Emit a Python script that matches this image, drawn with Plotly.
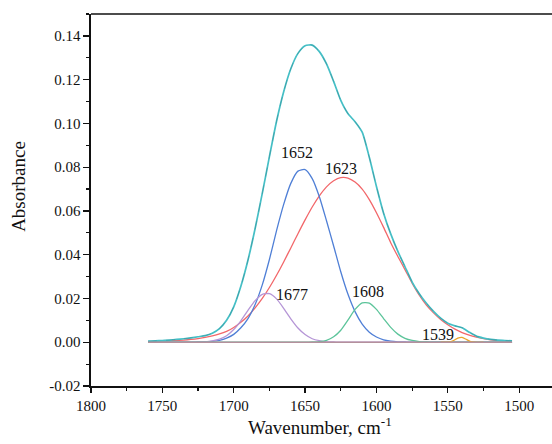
import plotly.graph_objects as go

# ---- data ----
wavenumber = [1760, 1755, 1750, 1745, 1740, 1735, 1730, 1725, 1720, 1715,
              1710, 1705, 1700, 1695, 1690, 1685, 1680, 1675, 1670, 1665,
              1660, 1655, 1650, 1645, 1640, 1635, 1630, 1625, 1620, 1615,
              1610, 1605, 1600, 1595, 1590, 1585, 1580, 1575, 1570, 1565,
              1560, 1555, 1550, 1545, 1540, 1535, 1530, 1525, 1520, 1515,
              1510, 1505]

total_fit = [0.0005, 0.0006, 0.0008, 0.0010, 0.0013, 0.0016, 0.0020, 0.0025, 0.0030, 0.0041,
             0.0062, 0.0100, 0.0162, 0.0256, 0.0376, 0.0520, 0.0680, 0.0848, 0.1010, 0.1145,
             0.1250, 0.1320, 0.1355, 0.1358, 0.1328, 0.1272, 0.1192, 0.1105, 0.1045, 0.1008,
             0.0960, 0.0845, 0.0712, 0.0590, 0.0495, 0.0415, 0.0345, 0.0275, 0.0222, 0.0178,
             0.0141, 0.0110, 0.0087, 0.0075, 0.0066, 0.0046, 0.0028, 0.0019, 0.0013, 0.0010,
             0.0008, 0.0006]

band_1623 = [0.0003, 0.0004, 0.0005, 0.0006, 0.0008, 0.0010, 0.0013, 0.0017, 0.0022, 0.0029,
             0.0038, 0.0050, 0.0067, 0.0091, 0.0120, 0.0157, 0.0200, 0.0250, 0.0306, 0.0367,
             0.0431, 0.0496, 0.0559, 0.0618, 0.0669, 0.0710, 0.0738, 0.0752, 0.0750, 0.0732,
             0.0700, 0.0652, 0.0592, 0.0525, 0.0455, 0.0392, 0.0332, 0.0270, 0.0215, 0.0170,
             0.0134, 0.0104, 0.0080, 0.0060, 0.0044, 0.0032, 0.0023, 0.0016, 0.0011, 0.0007,
             0.0005, 0.0003]

band_1652 = [0, 0, 0, 0, 0, 0, 0, 0.0001, 0.0002, 0.0004,
             0.0009, 0.0019, 0.0036, 0.0066, 0.0108, 0.0172, 0.0262, 0.0378, 0.0510, 0.0630,
             0.0726, 0.0782, 0.0789, 0.0748, 0.0665, 0.0555, 0.0440, 0.0322, 0.0220, 0.0140,
             0.0083, 0.0046, 0.0024, 0.0011, 0.0005, 0.0002, 0.0001, 0, 0, 0,
             0, 0, 0, 0, 0, 0, 0, 0, 0, 0,
             0, 0]

band_1677 = [0, 0, 0, 0, 0, 0, 0, 0.0001, 0.0002, 0.0006,
             0.0014, 0.0030, 0.0058, 0.0098, 0.0146, 0.0190, 0.0219, 0.0222, 0.0198, 0.0155,
             0.0107, 0.0065, 0.0035, 0.0016, 0.0007, 0.0002, 0.0001, 0, 0, 0,
             0, 0, 0, 0, 0, 0, 0, 0, 0, 0,
             0, 0, 0, 0, 0, 0, 0, 0, 0, 0,
             0, 0]

band_1608 = [0, 0, 0, 0, 0, 0, 0, 0, 0, 0,
             0, 0, 0, 0, 0, 0, 0, 0, 0, 0,
             0, 0, 0, 0.0001, 0.0003, 0.0009, 0.0025, 0.0055, 0.0101, 0.0150,
             0.0180, 0.0179, 0.0150, 0.0108, 0.0068, 0.0037, 0.0018, 0.0008, 0.0003, 0.0001,
             0, 0, 0, 0, 0, 0, 0, 0, 0, 0,
             0, 0]

wn_1539 = [1555, 1549, 1546, 1543, 1540, 1537, 1534, 1531, 1525]
band_1539 = [0, 0.0001, 0.0008, 0.0019, 0.0022, 0.0013, 0.0003, 0, 0]

baseline_x = [1760, 1505]
baseline_y = [0, 0]

peak_labels = ["1652", "1623", "1677", "1608", "1539"]
peak_label_x = [1655.9, 1624.8, 1659.4, 1605.7, 1556.6]
peak_label_y = [0.0868, 0.0796, 0.0218, 0.0232, 0.0034]

x_ticks = [1800, 1750, 1700, 1650, 1600, 1550, 1500]
y_ticks = [-0.02, 0.00, 0.02, 0.04, 0.06, 0.08, 0.10, 0.12, 0.14]
y_tick_text = ["-0.02", "0.00", "0.02", "0.04", "0.06", "0.08", "0.10", "0.12", "0.14"]

# ---- figure ----
FONT = "Liberation Serif"
fig = go.Figure()

def add_line(x, y, color, width=1.3, dash=None, opacity=1.0):
    fig.add_trace(go.Scatter(x=x, y=y, mode="lines",
                             line=dict(color=color, width=width, shape="spline",
                                       smoothing=0.6, dash=dash),
                             opacity=opacity, showlegend=False, hoverinfo="skip"))

add_line(wavenumber, band_1623, "#f2676a")
add_line(wavenumber, band_1652, "#4f7fd6")
add_line(wavenumber, band_1677, "#b595d6")
add_line(wavenumber, band_1608, "#5cc49a")
add_line(wn_1539, band_1539, "#eaa42a")
add_line(wavenumber, total_fit, "#45bfc6", width=1.7)
add_line(wavenumber, total_fit, "#2c5058", width=0.8, dash="dash", opacity=0.3)
fig.add_trace(go.Scatter(x=baseline_x, y=baseline_y, mode="lines",
                         line=dict(color="#b4909c", width=1.6),
                         showlegend=False, hoverinfo="skip"))

for t, lx, ly in zip(peak_labels, peak_label_x, peak_label_y):
    fig.add_annotation(x=lx, y=ly, xref="x", yref="y", text=t, showarrow=False,
                       font=dict(family=FONT, size=16, color="#111"))

fig.add_annotation(x=0.497, y=-0.108, xref="paper", yref="paper",
                   text="Wavenumber, cm<sup>-1</sup>", showarrow=False,
                   xanchor="center", yanchor="middle",
                   font=dict(family=FONT, size=19, color="#111"))
fig.add_annotation(x=-0.157, y=0.537, xref="paper", yref="paper",
                   text="Absorbance", showarrow=False, textangle=-90,
                   xanchor="center", yanchor="middle",
                   font=dict(family=FONT, size=19, color="#111"))

# top frame line of the plot box
fig.add_shape(type="line", xref="paper", yref="paper", x0=0, x1=1, y0=1, y1=1,
              line=dict(color="#111", width=1.6))

fig.update_layout(
    width=552, height=444,
    margin=dict(l=91, r=0, t=14, b=58),
    paper_bgcolor="white", plot_bgcolor="white",
    font=dict(family=FONT, size=15, color="#111"),
)
fig.update_xaxes(range=[1800, 1477], autorange=False,
                 tickvals=x_ticks, ticks="outside", ticklen=5, tickwidth=1.3,
                 tickcolor="#111", showline=True, linecolor="#111", linewidth=1.6,
                 mirror=False, showgrid=False, zeroline=False,
                 minor=dict(ticks="outside", dtick=25, tick0=1800, ticklen=3,
                            tickwidth=1.2, tickcolor="#111"),
                 tickfont=dict(family=FONT, size=15, color="#111"))
fig.update_yaxes(range=[-0.02, 0.15], autorange=False,
                 tickvals=y_ticks, ticktext=y_tick_text, ticks="outside", ticklen=6,
                 tickwidth=1.3, tickcolor="#111", showline=True, linecolor="#111",
                 linewidth=1.6, mirror=False, showgrid=False, zeroline=False,
                 minor=dict(ticks="outside", dtick=0.01, tick0=0, ticklen=3,
                            tickwidth=1.2, tickcolor="#111"),
                 tickfont=dict(family=FONT, size=15, color="#111"))

# remove the browser's default 8px page margin so the figure sits at (0, 0)
fig.write_html("out.html",
               config={"displayModeBar": False, "staticPlot": True},
               post_script="document.body.style.margin='0';"
                           "document.body.style.overflow='hidden';")
